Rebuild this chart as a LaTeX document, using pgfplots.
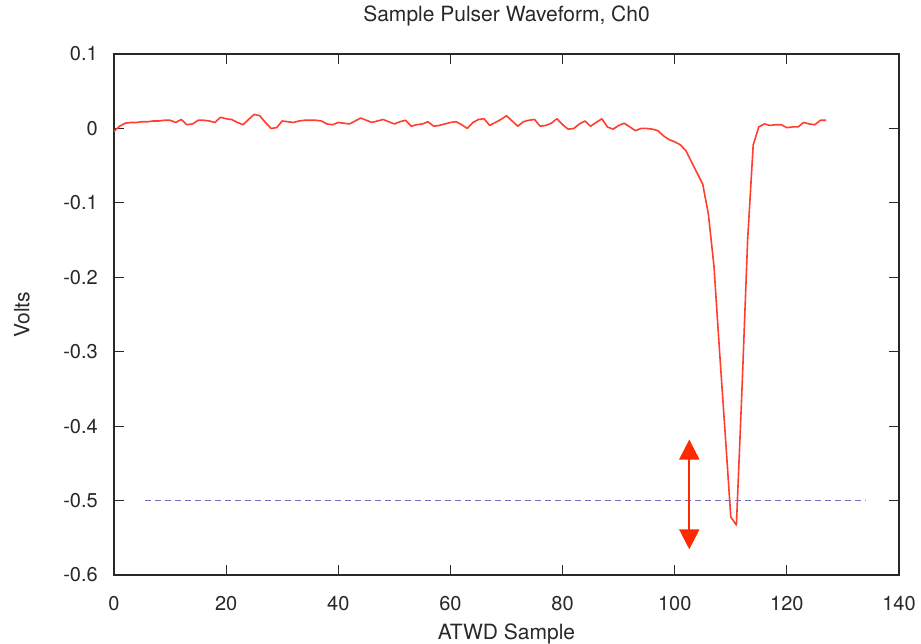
\documentclass[border=0pt]{standalone}
\usepackage{fontspec}
\setmainfont{TeX Gyre Heros}
\usepackage{pgfplots}
\pgfplotsset{compat=1.18}
\usetikzlibrary{arrows.meta}
\definecolor{wave}{RGB}{255,62,45}
\definecolor{arrowred}{RGB}{255,42,0}
\definecolor{dashblue}{RGB}{115,115,195}
\definecolor{axisgray}{RGB}{40,40,40}
\begin{document}
\fontsize{20bp}{24bp}\selectfont
\begin{tikzpicture}
\begin{axis}[
  name=ax,
  scale only axis,
  width=785bp, height=521bp,
  xmin=0, xmax=140, ymin=-0.6, ymax=0.1,
  xtick={0,20,...,140},
  ytick={-0.6,-0.5,-0.4,-0.3,-0.2,-0.1,0,0.1},
  yticklabels={-0.6,-0.5,-0.4,-0.3,-0.2,-0.1,0,0.1},
  /pgf/number format/assume math mode=true,
  tick align=inside,
  major tick length=10bp,
  axis line style={axisgray, line width=1.6bp},
  every tick/.style={axisgray, line width=1.2bp},
  xticklabel style={anchor=base, inner sep=0pt, yshift=-35bp, text=axisgray},
  yticklabel style={anchor=east, inner sep=0pt, xshift=-16bp, text=axisgray},
  title={Sample Pulser Waveform, Ch0},
  title style={at={(axis description cs:0.5,1)}, anchor=base, yshift=27bp, inner sep=0pt, font=\fontsize{21bp}{25bp}\selectfont, text=axisgray},
  xlabel={ATWD Sample},
  xlabel style={at={(axis description cs:0.5,0)}, anchor=base, yshift=-64bp, inner sep=0pt, font=\fontsize{21bp}{25bp}\selectfont, text=axisgray},
  ylabel={Volts},
  ylabel style={at={(axis description cs:-0.1172,0.5)}, anchor=center, inner sep=0pt, font=\fontsize{21bp}{25bp}\selectfont, text=axisgray},
  clip=false,
]
\addplot[dashblue, line width=1.6bp, dash pattern=on 6bp off 4bp] coordinates {(5.5,-0.5) (134,-0.5)};
\addplot[wave, line width=1.6bp, line join=round] table {
x y
0 -0.004
1 0.003
2 0.007
3 0.008
4 0.008
5 0.009
6 0.009
7 0.010
8 0.010
9 0.011
10 0.011
11 0.008
12 0.012
13 0.005
14 0.006
15 0.011
16 0.011
17 0.010
18 0.008
19 0.015
20 0.013
21 0.012
22 0.008
23 0.005
24 0.012
25 0.019
26 0.017
27 0.008
28 0.000
29 0.001
30 0.010
31 0.009
32 0.008
33 0.010
34 0.011
35 0.011
36 0.011
37 0.010
38 0.006
39 0.005
40 0.008
41 0.007
42 0.006
43 0.010
44 0.014
45 0.011
46 0.008
47 0.010
48 0.012
49 0.009
50 0.006
51 0.009
52 0.011
53 0.003
54 0.005
55 0.006
56 0.009
57 0.003
58 0.004
59 0.006
60 0.008
61 0.009
62 0.005
63 0.000
64 0.008
65 0.012
66 0.013
67 0.004
68 0.008
69 0.012
70 0.017
71 0.010
72 0.003
73 0.009
74 0.011
75 0.012
76 0.003
77 0.004
78 0.007
79 0.013
80 0.005
81 -0.001
82 0.000
83 0.006
84 0.010
85 0.003
86 0.008
87 0.013
88 0.002
89 -0.001
90 0.004
91 0.007
92 0.002
93 -0.003
94 0.000
95 0.000
96 -0.001
97 -0.003
98 -0.010
99 -0.015
100 -0.018
101 -0.022
102 -0.030
103 -0.045
104 -0.060
105 -0.075
106 -0.115
107 -0.185
108 -0.300
109 -0.410
110 -0.522
111 -0.533
112 -0.350
113 -0.150
114 -0.022
115 0.002
116 0.006
117 0.004
118 0.005
119 0.005
120 0.001
121 0.002
122 0.002
123 0.008
124 0.006
125 0.005
126 0.011
127 0.011
};
\addplot[arrowred, line width=2.2bp, {Triangle[width=20bp,length=20bp]}-{Triangle[width=20bp,length=20bp]}] coordinates {(102.6,-0.418) (102.6,-0.5655)};
\end{axis}
\pgfresetboundingbox
\path ([xshift=-114bp,yshift=-69bp]ax.south west) rectangle ([xshift=22bp,yshift=54bp]ax.north east);
\end{tikzpicture}
\end{document}
